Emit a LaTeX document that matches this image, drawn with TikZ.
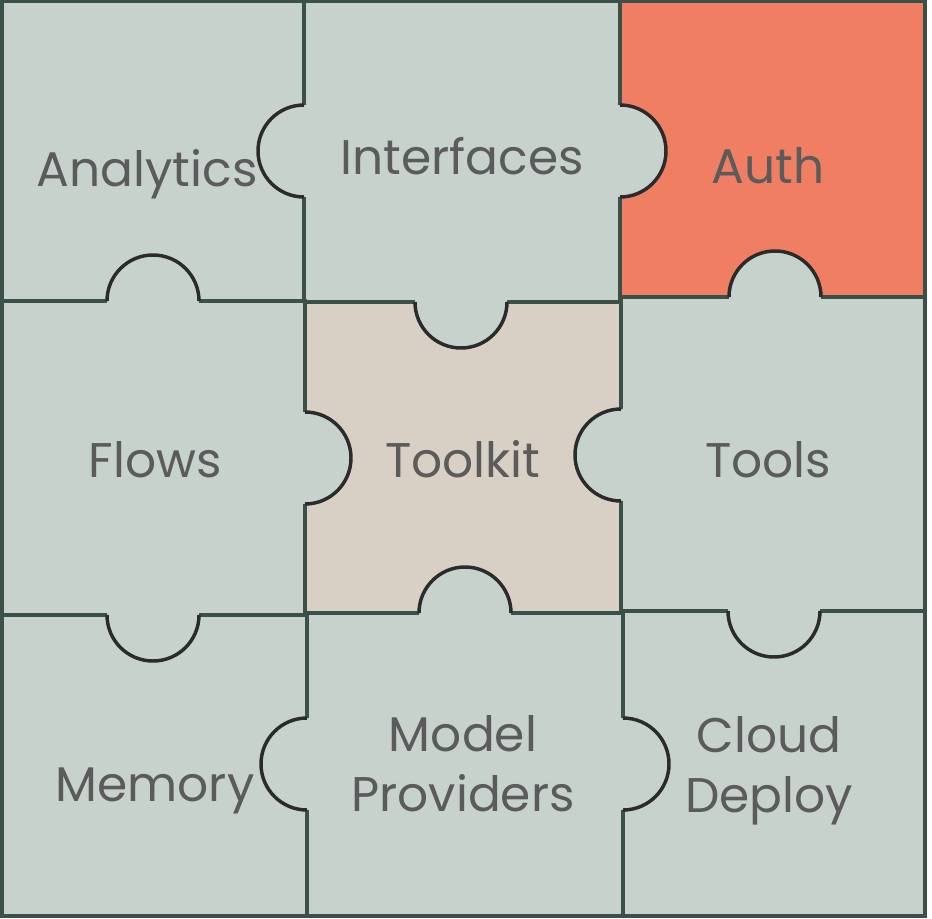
\documentclass[tikz,border=0pt]{standalone}
\usepackage{fontspec}
\setmainfont{Poppins}
\definecolor{cellgreen}{HTML}{C8D2CD}
\definecolor{authred}{HTML}{EF7E62}
\definecolor{toolkitsand}{HTML}{D8D0C5}
\definecolor{edgegreen}{HTML}{3A5048}
\definecolor{knobdark}{HTML}{2A2B2A}
\definecolor{labelgray}{HTML}{5A5B5A}
% knob: centre x, centre y, start angle, end angle, fill
\newcommand{\knob}[5]{%
  \fill[#5] (#1,#2) circle[radius=46];
  \draw[knobline] (#1,#2) ++(#3:46) arc[start angle=#3, end angle=#4, radius=46];
}
\begin{document}
\begin{tikzpicture}[x=0.75pt, y=-0.75pt,
  cell/.style={draw=edgegreen, line width=2.3pt},
  knobline/.style={draw=knobdark, line width=2.6pt},
  lbl/.style={anchor=base, text=labelgray, align=center,
    font={\fontsize{36.5}{44.5}\selectfont}}]
\useasboundingbox[fill=white] (0,0) rectangle (932,918);
% cells
\filldraw[cell, fill=cellgreen] (2,1.5) rectangle (304,301);
\filldraw[cell, fill=cellgreen] (304,1.5) rectangle (620,302);
\filldraw[cell, fill=authred] (620,1.5) rectangle (925,297);
\filldraw[cell, fill=cellgreen] (2,301) rectangle (305,615);
\filldraw[cell, fill=toolkitsand] (305,302) rectangle (621,613);
\filldraw[cell, fill=cellgreen] (621,297) rectangle (925,611);
\filldraw[cell, fill=cellgreen] (2,615) rectangle (307,916);
\filldraw[cell, fill=cellgreen] (307,613) rectangle (623,916);
\filldraw[cell, fill=cellgreen] (623,611) rectangle (925,916);
% knobs
\knob{304}{151}{270}{90}{cellgreen}
\knob{620}{151}{-90}{90}{cellgreen}
\knob{153}{301}{180}{360}{cellgreen}
\knob{461}{302}{0}{180}{cellgreen}
\knob{305}{458}{-90}{90}{cellgreen}
\knob{621}{455}{270}{90}{cellgreen}
\knob{775}{297}{180}{360}{cellgreen}
\knob{153}{615}{0}{180}{cellgreen}
\knob{465}{613}{180}{360}{cellgreen}
\knob{774}{611}{0}{180}{cellgreen}
\knob{307}{764}{270}{90}{cellgreen}
\knob{623}{764}{-90}{90}{cellgreen}
% labels
\node[lbl] (analytics) at (147,186){Analytics};
\node[lbl] (interfaces) at (462,174){Interfaces};
\node[lbl] (auth) at (768,183){Auth};
\node[lbl] (flows) at (155,477){Flows};
\node[lbl] (toolkit) at (463,477){Toolkit};
\node[lbl] (tools) at (768,477){Tools};
\node[lbl] (memory) at (155,801){Memory};
\node[lbl] (providers) at (463,811){Model\\Providers};
\node[lbl] (deploy) at (769,812){Cloud\\Deploy};
\end{tikzpicture}
\end{document}
